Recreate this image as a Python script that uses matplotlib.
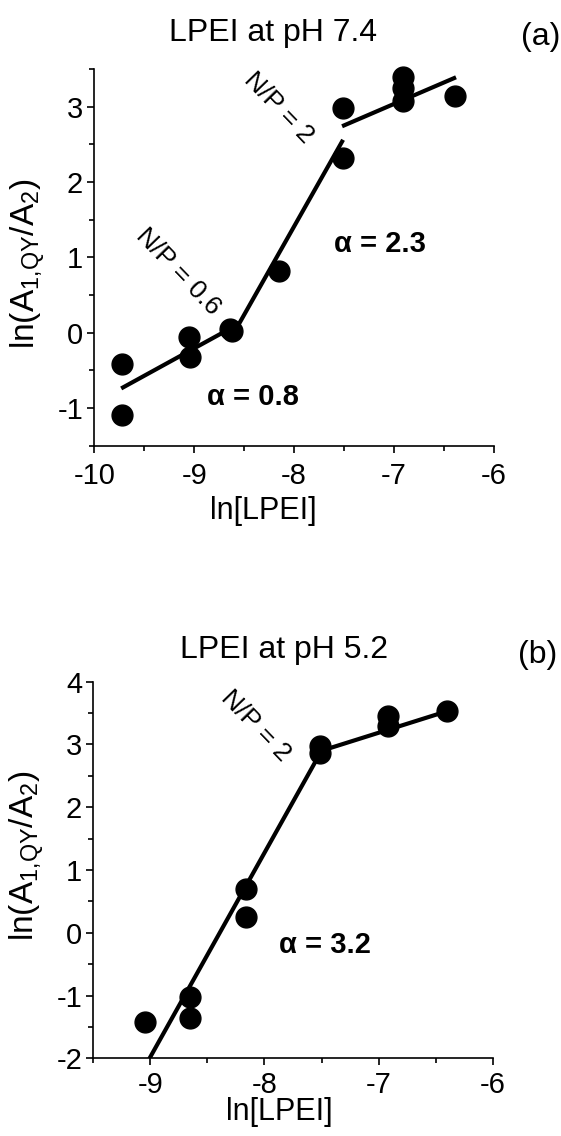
import matplotlib
matplotlib.use("Agg")
import matplotlib.pyplot as plt
import numpy as np

plt.rcParams['font.family'] = ['Liberation Sans', 'DejaVu Sans']
plt.rcParams['mathtext.default'] = 'regular'

# Panel (a): LPEI at pH 7.4
a_x = [-9.72, -9.72, -9.05, -9.04, -8.64, -8.62, -8.15, -7.51, -7.51, -6.91, -6.91, -6.91, -6.39]
a_y = [-0.41, -1.09, -0.06, -0.32, 0.05, 0.02, 0.82, 2.98, 2.32, 3.39, 3.25, 3.07, 3.14]
a_fit_x = [[-9.73, -8.55], [-8.55, -7.51], [-7.52, -6.38]]
a_fit_y = [[-0.74, 0.12], [0.12, 2.56], [2.74, 3.39]]

# Panel (b): LPEI at pH 5.2
b_x = [-9.05, -8.65, -8.65, -8.16, -8.16, -7.51, -7.51, -6.92, -6.92, -6.40]
b_y = [-1.42, -1.02, -1.35, 0.69, 0.25, 2.97, 2.86, 3.45, 3.30, 3.53]
b_fit_x = [[-9.01, -7.50], [-7.50, -6.40]]
b_fit_y = [[-2.01, 2.90], [2.90, 3.53]]

x_ticks_a = [-10, -9, -8, -7, -6]
y_ticks_a = [-1, 0, 1, 2, 3]
x_ticks_b = [-9, -8, -7, -6]
y_ticks_b = [-2, -1, 0, 1, 2, 3, 4]

W, H = 561, 1136
fig = plt.figure(figsize=(W / 100, H / 100), dpi=100)

ax1 = fig.add_axes([94.2 / W, 1 - 445.7 / H, (494.0 - 94.2) / W, (445.7 - 69.0) / H])
ax2 = fig.add_axes([93.3 / W, 1 - 1058.3 / H, (492.7 - 93.3) / W, (1058.3 - 681.7) / H])

TICK_FS = 21
LABEL_FS = 22
YLABEL_FS = 24

def style(ax, xlim, ylim, xt, yt, xpad):
    ax.set_xlim(*xlim)
    ax.set_ylim(*ylim)
    for s in ['top', 'right']:
        ax.spines[s].set_visible(False)
    for s in ['left', 'bottom']:
        ax.spines[s].set_linewidth(1.2)
    ax.set_xticks(xt)
    ax.set_yticks(yt)
    ax.set_xticks(np.arange(xlim[0], xlim[1] + 0.01, 0.5), minor=True)
    ax.set_yticks(np.arange(ylim[0], ylim[1] + 0.01, 0.5), minor=True)
    ax.set_xticklabels([str(v) for v in xt])
    ax.set_yticklabels([str(v) for v in yt])
    ax.tick_params(which='major', direction='out', length=5, width=1.2, labelsize=TICK_FS)
    ax.tick_params(axis='x', which='major', pad=xpad)
    ax.tick_params(axis='y', which='major', pad=3)
    ax.tick_params(which='minor', direction='out', length=3.5, width=1.2)

# Panel a
ax1.plot(a_x, a_y, 'o', color='black', markersize=15, clip_on=False, zorder=3)
for fx, fy in zip(a_fit_x, a_fit_y):
    ax1.plot(fx, fy, '-', color='black', lw=3, solid_capstyle='butt')
style(ax1, (-10, -6), (-1.5, 3.5), x_ticks_a, y_ticks_a, 7)
ax1.text(-8.41, -0.85, 'α = 0.8', fontsize=21, fontweight='bold', ha='center', va='center')
ax1.text(-7.14, 1.18, 'α = 2.3', fontsize=21, fontweight='bold', ha='center', va='center')
ax1.text(-9.16, 0.81, 'N/P = 0.6', fontsize=19, rotation=-46, ha='center', va='center', rotation_mode='anchor')
ax1.text(-8.15, 2.99, 'N/P = 2', fontsize=19, rotation=-46, ha='center', va='center', rotation_mode='anchor')

# Panel b
ax2.plot(b_x, b_y, 'o', color='black', markersize=15, clip_on=False, zorder=3)
for fx, fy in zip(b_fit_x, b_fit_y):
    ax2.plot(fx, fy, '-', color='black', lw=3, solid_capstyle='butt')
style(ax2, (-9.5, -6), (-2, 4), x_ticks_b, y_ticks_b, 4)
ax2.text(-7.47, -0.20, 'α = 3.2', fontsize=21, fontweight='bold', ha='center', va='center')
ax2.text(-8.08, 3.30, 'N/P = 2', fontsize=19, rotation=-46, ha='center', va='center', rotation_mode='anchor')

ylab = r'ln(A$_{1{,}QY}$/A$_{2}$)'
fig.text(28 / W, 1 - 264 / H, ylab, fontsize=YLABEL_FS, rotation=90, ha='center', va='center')
fig.text(27 / W, 1 - 856 / H, ylab, fontsize=YLABEL_FS, rotation=90, ha='center', va='center')
fig.text(263 / W, 1 - 511 / H, 'ln[LPEI]', fontsize=LABEL_FS, ha='center', va='center')
fig.text(279 / W, 1 - 1112 / H, 'ln[LPEI]', fontsize=LABEL_FS, ha='center', va='center')

fig.text(273 / W, 1 - 33 / H, 'LPEI at pH 7.4', fontsize=23, ha='center', va='center')
fig.text(541 / W, 1 - 37 / H, '(a)', fontsize=23, ha='center', va='center')
fig.text(284 / W, 1 - 650 / H, 'LPEI at pH 5.2', fontsize=23, ha='center', va='center')
fig.text(538 / W, 1 - 655 / H, '(b)', fontsize=23, ha='center', va='center')

fig.savefig('out.png', dpi=100)
